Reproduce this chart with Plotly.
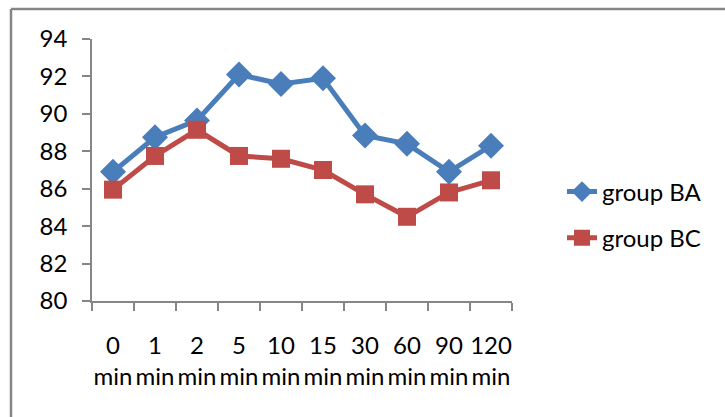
import plotly.graph_objects as go

categories = ["0<br>min", "1<br>min", "2<br>min", "5<br>min", "10<br>min",
              "15<br>min", "30<br>min", "60<br>min", "90<br>min", "120<br>min"]
group_ba = [86.9, 88.75, 89.65, 92.1, 91.6, 91.9, 88.85, 88.4, 86.9, 88.3]
group_bc = [85.95, 87.75, 89.15, 87.75, 87.6, 87.0, 85.7, 84.5, 85.8, 86.45]
y_ticks = [80, 82, 84, 86, 88, 90, 92, 94]

blue = "#4A7EBB"
red = "#BE4B48"
axis_col = "#868686"
font_family = "Lato, 'Open Sans', sans-serif"
FS = 24

fig = go.Figure()
fig.add_trace(go.Scatter(
    x=categories, y=group_ba, name="group BA", mode="lines+markers",
    line=dict(color=blue, width=5),
    marker=dict(symbol="diamond", size=20, color=blue),
    legendgroup="a",
))
fig.add_trace(go.Scatter(
    x=categories, y=group_bc, name="group BC", mode="lines+markers",
    line=dict(color=red, width=5),
    marker=dict(symbol="square", size=18, color=red),
    legendgroup="b",
))

L, R, T, B = 92, 213, 39, 116
W, H = 725, 417
pw, ph = W - L - R, H - T - B

def px_x(x):
    return (x - L) / pw

def px_y(y):
    return (H - B - y) / ph

fig.update_layout(
    width=W, height=H,
    margin=dict(l=L, r=R, t=T, b=B, pad=0),
    paper_bgcolor="white", plot_bgcolor="white",
    font=dict(family=font_family, size=FS, color="#000000"),
    showlegend=True,
    legend=dict(
        x=px_x(562), xanchor="left", y=px_y(215), yanchor="middle",
        font=dict(size=FS), traceorder="grouped", tracegroupgap=12,
        bgcolor="rgba(0,0,0,0)",
    ),
    xaxis=dict(
        type="category", range=[-0.5, 9.5], showgrid=False, showline=True,
        linecolor=axis_col, linewidth=1.5, ticks="outside",
        tickson="boundaries", ticklen=8, tickcolor=axis_col, tickwidth=1.5,
        tickangle=0, zeroline=False, tickfont=dict(size=FS),
        ticklabelstandoff=22,
    ),
    yaxis=dict(
        range=[80, 94], tickvals=y_ticks, showgrid=False, showline=True,
        linecolor=axis_col, linewidth=1.5, ticks="outside", ticklen=8,
        tickcolor=axis_col, tickwidth=1.5, zeroline=False,
        tickfont=dict(size=FS), ticklabelstandoff=10,
    ),
    shapes=[
        dict(type="line", xref="paper", yref="paper",
             x0=px_x(11), x1=px_x(11), y0=px_y(9), y1=px_y(420),
             line=dict(color=axis_col, width=2.5)),
        dict(type="line", xref="paper", yref="paper",
             x0=px_x(11), x1=px_x(730), y0=px_y(9), y1=px_y(9),
             line=dict(color=axis_col, width=2.5)),
    ],
)

fig.write_html("out.html", config={"displayModeBar": False},
               post_script="document.body.style.margin='0';")
